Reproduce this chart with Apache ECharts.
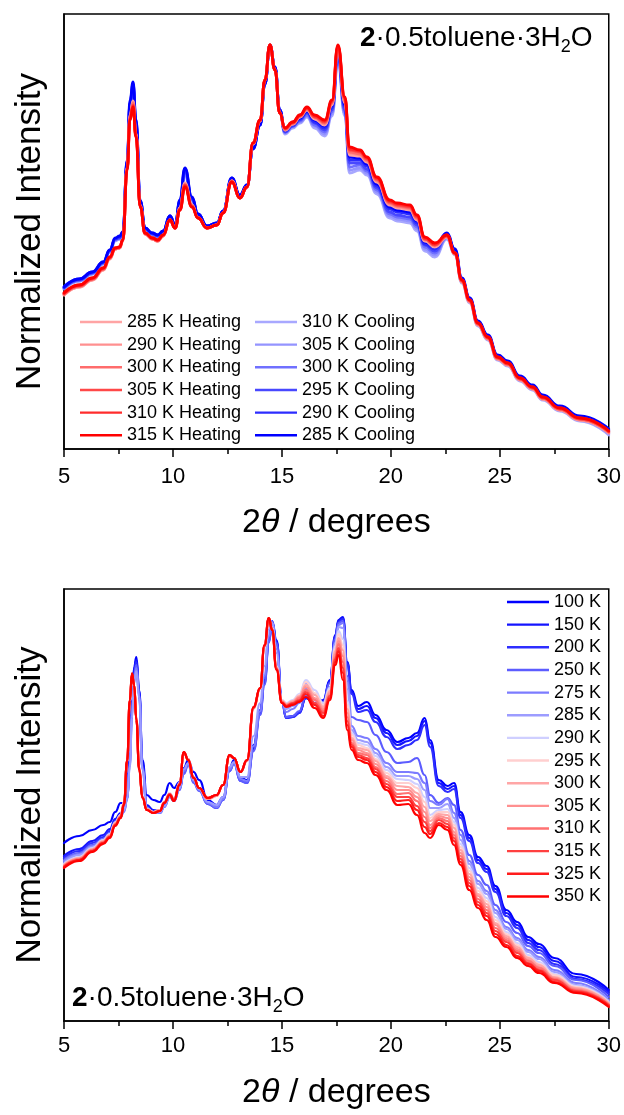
<!DOCTYPE html>
<html>
<head>
<meta charset="utf-8">
<script src="https://cdn.jsdelivr.net/npm/echarts@6.0.0/dist/echarts.min.js"></script>
<style>
html, body { margin: 0; padding: 0; background: #fff; }
#main { width: 624px; height: 1115px; }
</style>
</head>
<body>
<div id="main"></div>
<script>
// 2theta grid for the upper panel (heating / cooling cycle)
var twoThetaTop = [5.0,5.7,6.3,6.8,7.1,7.35,7.55,7.7,7.9,8.03,8.17,8.3,8.5,8.72,9.05,9.3,9.55,9.86,10.1,10.32,10.55,10.87,11.15,11.56,12.02,12.3,12.7,13.07,13.4,13.67,14.0,14.22,14.45,14.68,14.9,15.14,15.5,15.83,16.15,16.5,16.97,17.3,17.57,17.89,18.1,18.58,18.9,19.36,19.95,20.28,20.87,21.2,21.56,22.02,22.57,22.94,23.26,23.62,24.0,24.45,24.9,25.37,25.92,26.5,26.97,27.75,28.67,30.0];

var heat285 = [154,162,169,179,190,200,201,208,282,334,348,316,243,215,210,208,213,229,221,241,266,244,231,221,224,236,268,251,262,305,328,369,404,379,336,319,325,332,339,330,324,344,399,346,294,293,287,267,244,241,239,229,208,202,212,195,167,147,124,110,90,84,69,60,50,39,29,16];
var heat290 = [154,162,169,179,190,200,201,208,281,333,347,315,243,215,210,208,213,229,221,241,265,244,231,221,224,236,268,251,262,305,328,369,404,379,336,319,325,332,340,331,325,345,400,347,296,294,288,268,245,242,240,230,209,203,212,195,167,147,124,110,90,84,69,60,50,39,29,16];
var heat300 = [155,163,170,180,191,200,201,208,281,332,346,314,243,215,210,208,213,229,221,240,264,243,231,221,224,236,268,251,262,305,328,369,404,379,336,320,326,333,340,332,326,346,401,348,297,295,289,269,246,243,241,231,210,204,213,195,168,148,125,111,91,85,70,61,51,40,30,17];
var heat305 = [155,163,170,180,191,201,202,209,280,331,344,314,242,216,211,209,214,229,221,240,264,243,231,221,224,236,267,251,262,306,329,369,404,379,336,320,326,333,341,332,327,347,402,350,299,297,290,270,247,244,242,232,210,204,213,196,168,148,125,111,91,85,70,61,51,40,30,17];
var heat310 = [156,164,171,181,192,201,202,209,280,330,343,313,242,216,211,209,214,229,221,239,263,242,231,221,224,236,267,251,262,306,329,369,404,379,336,321,327,334,341,333,328,348,403,351,300,298,291,271,248,245,243,233,211,205,214,196,169,149,126,112,92,86,71,62,52,41,31,18];
var heat315 = [156,164,171,181,192,201,202,209,279,329,342,312,242,216,211,209,214,229,221,239,262,242,231,221,224,236,267,251,262,306,329,369,404,379,336,321,327,334,342,334,329,349,404,352,302,299,292,272,249,246,244,234,212,206,214,196,169,149,126,112,92,86,71,62,52,41,31,18];

var cool310 = [160,168,175,185,197,208,210,215,285,341,357,323,246,219,214,212,217,232,223,245,274,248,234,222,225,237,269,252,262,301,325,366,403,381,338,315,321,326,332,321,313,333,386,333,276,279,274,255,231,228,226,218,198,192,210,194,166,146,123,109,89,83,68,59,49,38,28,14];
var cool305 = [160,168,175,185,197,209,210,215,286,343,359,324,246,219,214,212,217,232,223,246,275,249,234,222,225,237,269,252,262,301,325,366,403,381,338,316,322,327,333,323,315,335,388,335,279,281,276,257,233,230,228,220,200,194,211,195,167,147,124,110,90,84,69,60,50,39,29,15];
var cool300 = [161,169,176,186,198,209,211,216,287,344,361,326,247,220,215,213,217,232,223,247,277,250,234,222,225,237,270,253,263,301,325,366,403,381,338,317,323,328,334,324,317,337,390,337,282,284,278,259,235,232,230,222,202,196,212,196,168,148,125,111,91,85,70,61,51,40,30,16];
var cool295 = [161,169,176,186,198,210,211,216,287,346,363,327,247,220,215,213,218,233,224,247,278,250,235,223,226,238,270,253,263,300,324,365,404,382,339,317,323,329,336,326,319,339,392,339,286,286,280,261,237,234,232,224,204,198,214,198,169,149,126,112,92,86,71,62,52,41,31,18];
var cool290 = [162,170,177,187,199,210,212,217,288,347,365,329,248,221,216,214,218,233,224,248,280,251,235,223,226,238,271,254,264,300,324,365,404,382,339,318,324,330,337,327,321,341,395,342,289,289,283,263,240,237,235,226,205,200,215,199,170,150,127,113,93,87,72,63,53,42,32,19];
var cool285 = [162,170,177,187,199,211,213,217,289,349,367,330,248,221,216,214,218,233,224,249,281,252,235,223,226,238,271,254,264,300,324,365,404,382,339,319,325,331,338,329,323,343,397,344,292,291,285,265,242,239,237,228,207,202,216,200,171,151,128,114,94,88,73,64,54,43,33,20];

// 2theta grid for the lower panel (variable temperature)
var twoThetaBottom = [5.0,5.7,6.3,6.8,7.1,7.35,7.6,7.75,7.9,8.02,8.12,8.22,8.32,8.45,8.6,8.8,9.1,9.4,9.6,9.85,10.05,10.3,10.5,10.7,10.95,11.2,11.6,12.0,12.3,12.6,12.8,13.1,13.4,13.7,14.0,14.2,14.4,14.55,14.75,15.0,15.2,15.5,15.8,16.1,16.5,16.9,17.2,17.45,17.6,17.8,18.0,18.2,18.5,18.9,19.3,19.8,20.3,20.8,21.2,21.55,21.8,22.2,22.6,22.9,23.2,23.6,24.0,24.4,24.8,25.3,25.8,26.3,26.8,27.5,28.5,30.0];

var k100 = [178,185,191,196,199,209,218,218,231,271,321,354,364,331,261,226,221,219,226,238,233,239,253,261,249,241,221,216,224,253,261,243,241,276,311,341,381,400,381,321,304,305,309,323,318,321,341,386,401,404,359,331,315,319,306,291,279,283,288,303,281,241,235,238,209,186,164,155,135,111,99,84,77,63,47,31];
var k150 = [165,172,180,186,192,202,208,212,225,266,318,352,361,330,258,216,211,210,216,226,222,233,250,258,240,232,218,214,222,251,259,241,239,273,309,339,380,399,380,320,303,304,308,323,317,320,340,385,400,403,358,329,312,315,303,288,276,280,285,300,278,238,232,235,206,183,161,152,132,108,96,81,74,60,44,29];
var k200 = [163,170,178,184,190,200,206,211,223,262,314,349,359,328,255,214,209,209,215,225,221,232,248,257,239,231,217,213,221,250,258,240,238,271,307,337,379,398,379,319,303,304,308,324,317,319,339,384,399,402,357,327,309,311,299,284,272,276,281,296,274,235,229,232,203,180,158,149,129,105,93,78,71,57,42,27];
var k250 = [161,168,176,182,188,198,205,210,222,258,310,345,356,326,253,213,208,208,214,224,220,231,247,256,238,230,217,213,221,250,257,240,238,270,306,336,378,398,378,319,304,305,310,325,318,319,338,382,398,400,345,304,301,299,286,269,258,259,263,246,226,218,223,216,191,166,146,136,116,99,88,75,68,55,41,24];
var k275 = [160,167,175,181,187,197,204,209,221,256,306,341,353,325,252,213,208,208,214,224,220,232,250,257,240,231,218,214,222,252,258,242,240,275,310,345,385,399,372,318,309,312,318,332,322,316,333,378,396,398,340,295,285,283,272,258,249,249,248,238,220,216,222,208,186,160,140,130,111,94,83,71,64,51,38,21];
var k285 = [158,166,174,181,187,198,205,211,223,254,303,338,350,323,251,213,208,209,215,225,220,233,252,258,241,232,219,216,224,254,259,244,244,285,318,355,392,398,368,319,312,315,322,338,327,317,334,378,394,393,332,291,281,279,268,254,245,245,242,231,213,213,217,203,181,157,137,127,108,92,81,69,62,49,36,20];
var k290 = [157,164,173,181,187,199,206,219,259,318,344,335,303,255,225,212,209,211,219,228,222,238,268,262,244,233,222,225,236,265,263,249,260,312,332,374,402,393,355,321,318,321,327,341,331,318,333,375,390,382,320,288,278,276,265,251,242,241,237,224,206,211,212,199,177,153,133,123,104,89,78,66,59,47,35,19];
var k295 = [156,163,172,180,186,198,206,219,259,318,345,335,303,254,225,212,209,211,219,228,222,238,268,262,244,233,222,225,236,265,263,249,260,312,332,374,402,393,354,321,317,320,326,339,328,316,331,372,387,376,316,286,276,273,262,248,238,238,233,219,203,209,209,196,174,150,130,120,101,87,76,64,57,46,34,18];
var k300 = [156,163,172,180,186,198,205,218,260,319,345,335,302,254,224,212,209,211,219,227,221,237,268,262,244,233,222,225,236,265,263,249,260,313,332,375,402,392,354,320,317,320,325,336,326,314,330,370,383,371,312,283,273,271,260,245,235,234,228,214,200,207,206,193,171,147,127,117,98,85,74,63,56,44,33,18];
var k305 = [155,162,171,179,185,197,205,218,260,319,346,335,302,253,224,212,209,211,219,227,221,237,268,262,244,233,222,225,236,265,263,249,260,313,332,375,402,392,353,320,316,319,324,334,323,312,328,367,380,365,308,281,271,268,257,243,231,231,224,209,196,205,203,189,168,144,125,114,96,83,72,61,54,43,32,17];
var k310 = [155,162,171,179,185,197,204,217,260,320,346,336,302,253,224,211,208,210,218,227,221,237,269,261,243,233,223,226,236,266,263,249,261,313,333,375,403,392,353,319,316,318,323,331,321,310,326,364,377,359,304,278,268,266,254,240,227,228,220,204,193,203,200,186,165,141,122,111,93,81,70,60,53,42,31,16];
var k315 = [154,161,170,178,184,196,204,217,260,320,347,336,302,252,224,211,208,210,218,227,221,237,269,261,243,233,223,226,236,266,263,249,261,313,333,375,403,392,352,319,315,318,321,329,318,308,325,362,373,353,300,276,266,263,252,237,224,224,215,199,190,201,197,183,162,138,119,108,90,79,68,58,51,41,30,16];
var k325 = [154,161,170,178,184,196,203,216,261,321,347,336,301,252,223,211,208,210,218,226,220,236,269,261,243,233,223,226,236,266,263,249,261,314,333,376,403,391,352,318,315,317,320,327,316,305,323,359,370,348,296,274,264,261,249,234,220,221,211,194,187,198,194,180,159,135,116,105,87,76,65,57,50,39,29,15];
var k350 = [153,160,169,177,183,195,203,216,261,321,348,336,301,251,223,211,208,210,218,226,220,236,269,261,243,233,223,226,236,266,263,249,261,314,333,376,403,391,351,318,314,316,319,324,313,303,321,356,366,341,291,271,261,258,246,231,216,217,206,188,183,196,191,176,156,131,113,101,84,74,63,55,48,38,28,14];

var heatingNames = ['285 K Heating','290 K Heating','300 K Heating','305 K Heating','310 K Heating','315 K Heating'];
var coolingNames = ['310 K Cooling','305 K Cooling','300 K Cooling','295 K Cooling','290 K Cooling','285 K Cooling'];
var tempNames = ['100 K','150 K','200 K','250 K','275 K','285 K','290 K','295 K','300 K','305 K','310 K','315 K','325 K','350 K'];
var xTicks = [5, 10, 15, 20, 25, 30];

var FONT = 'Liberation Sans, Arial, Helvetica, sans-serif';
// thin bar centred in a 42x18 legend box (corner specks keep the box size)
var LINE_ICON = 'path://M0,0h0.01v0.01h-0.01z M0,7.8h42v2.4h-42z M41.99,17.99h0.01v0.01h-0.01z';

var myChart = echarts.init(document.getElementById('main'), null, {renderer: 'canvas'});

function pairs(xs, ys) {
    return xs.map(function (x, i) { return [x, ys[i]]; });
}

function line(name, xs, ys, color, width, gi) {
    return {
        name: name,
        type: 'line',
        xAxisIndex: gi,
        yAxisIndex: gi,
        data: pairs(xs, ys),
        symbol: 'none',
        smooth: 0.5,
        smoothMonotone: 'x',
        lineStyle: {color: color, width: width, join: 'round', cap: 'round'},
        itemStyle: {color: color},
        emphasis: {disabled: true},
        silent: true
    };
}

function xAxisFor(gi, labelMargin, nameGap) {
    return {
        type: 'value',
        gridIndex: gi,
        min: xTicks[0],
        max: xTicks[xTicks.length - 1],
        interval: 5,
        axisLine: {show: true, onZero: false, lineStyle: {color: '#000', width: 1.5}},
        axisTick: {show: true, length: 8, lineStyle: {color: '#000', width: 1.5}},
        minorTick: {show: true, splitNumber: 2, length: 5, lineStyle: {color: '#000', width: 1.5}},
        splitLine: {show: false},
        axisLabel: {fontSize: 22, color: '#000', margin: labelMargin, fontFamily: FONT},
        name: '{n|2}{i|θ}{n| / degrees}',
        nameLocation: 'middle',
        nameGap: nameGap,
        nameTextStyle: {
            rich: {
                n: {fontSize: 34, color: '#000', fontFamily: FONT},
                i: {fontSize: 34, color: '#000', fontFamily: FONT, fontStyle: 'italic'}
            }
        }
    };
}

function yAxisFor(gi, maxVal) {
    return {
        type: 'value',
        gridIndex: gi,
        min: 0,
        max: maxVal,
        axisLine: {show: true, lineStyle: {color: '#000', width: 1.5}},
        axisTick: {show: false},
        axisLabel: {show: false},
        splitLine: {show: false},
        name: 'Normalized Intensity',
        nameLocation: 'middle',
        nameRotate: 90,
        nameGap: 16,
        nameTextStyle: {fontSize: 35, color: '#000', fontFamily: FONT}
    };
}

function legendFor(names, left, top) {
    return {
        data: names,
        orient: 'vertical',
        left: left,
        top: top,
        padding: 0,
        icon: LINE_ICON,
        itemWidth: 42,
        itemHeight: 18,
        itemGap: 4.65,
        selectedMode: false,
        textStyle: {fontSize: 18, color: '#000', fontFamily: FONT}
    };
}

var series = [
    line('310 K Cooling', twoThetaTop, cool310, '#a8a8ff', 2.8, 0),
    line('305 K Cooling', twoThetaTop, cool305, '#9494ff', 2.8, 0),
    line('300 K Cooling', twoThetaTop, cool300, '#7070ff', 2.8, 0),
    line('295 K Cooling', twoThetaTop, cool295, '#4848ff', 2.8, 0),
    line('290 K Cooling', twoThetaTop, cool290, '#2c2cff', 2.8, 0),
    line('285 K Cooling', twoThetaTop, cool285, '#0000ff', 2.8, 0),
    line('285 K Heating', twoThetaTop, heat285, '#ffa4a4', 2.8, 0),
    line('290 K Heating', twoThetaTop, heat290, '#ff9090', 2.8, 0),
    line('300 K Heating', twoThetaTop, heat300, '#ff6c6c', 2.8, 0),
    line('305 K Heating', twoThetaTop, heat305, '#ff4848', 2.8, 0),
    line('310 K Heating', twoThetaTop, heat310, '#ff2c2c', 2.8, 0),
    line('315 K Heating', twoThetaTop, heat315, '#ff0000', 2.8, 0),

    line('100 K', twoThetaBottom, k100, '#0000ff', 2.2, 1),
    line('150 K', twoThetaBottom, k150, '#1414ff', 2.2, 1),
    line('200 K', twoThetaBottom, k200, '#2e2eff', 2.2, 1),
    line('250 K', twoThetaBottom, k250, '#5c5cff', 2.2, 1),
    line('275 K', twoThetaBottom, k275, '#7c7cff', 2.2, 1),
    line('285 K', twoThetaBottom, k285, '#9c9cff', 2.2, 1),
    line('290 K', twoThetaBottom, k290, '#cfcfff', 2.2, 1),
    line('295 K', twoThetaBottom, k295, '#ffcfcf', 2.2, 1),
    line('300 K', twoThetaBottom, k300, '#ffa6a6', 2.2, 1),
    line('305 K', twoThetaBottom, k305, '#ff9090', 2.2, 1),
    line('310 K', twoThetaBottom, k310, '#ff7272', 2.2, 1),
    line('315 K', twoThetaBottom, k315, '#ff4040', 2.2, 1),
    line('325 K', twoThetaBottom, k325, '#ff1c1c', 2.2, 1),
    line('350 K', twoThetaBottom, k350, '#ff0000', 2.2, 1)
];

var formulaRich = {
    b: {fontSize: 28, fontWeight: 'bold', fontFamily: FONT, fill: '#000', lineHeight: 36},
    n: {fontSize: 28, fontFamily: FONT, fill: '#000', lineHeight: 36},
    s: {fontSize: 18, fontFamily: FONT, fill: '#000', lineHeight: 36, verticalAlign: 'bottom'}
};
var formulaText = '{b|2}{n|·0.5toluene·3H}{s|2}{n|O}';

option = {
    animation: false,
    backgroundColor: '#fff',
    textStyle: {fontFamily: FONT},
    grid: [
        {left: 64, top: 14, width: 545, height: 435, show: true, borderColor: '#000', borderWidth: 1.5},
        {left: 64, top: 589, width: 545, height: 432, show: true, borderColor: '#000', borderWidth: 1.5}
    ],
    xAxis: [xAxisFor(0, 17, 57), xAxisFor(1, 14, 55)],
    yAxis: [yAxisFor(0, 435), yAxisFor(1, 432)],
    legend: [
        legendFor(heatingNames, 80, 313),
        legendFor(coolingNames, 255, 313),
        legendFor(tempNames, 507, 593)
    ],
    graphic: [
        {type: 'text', left: 360, top: 24, style: {text: formulaText, rich: formulaRich}},
        {type: 'text', left: 72, top: 984, style: {text: formulaText, rich: formulaRich}}
    ],
    series: series
};

myChart.setOption(option);
</script>
</body>
</html>
